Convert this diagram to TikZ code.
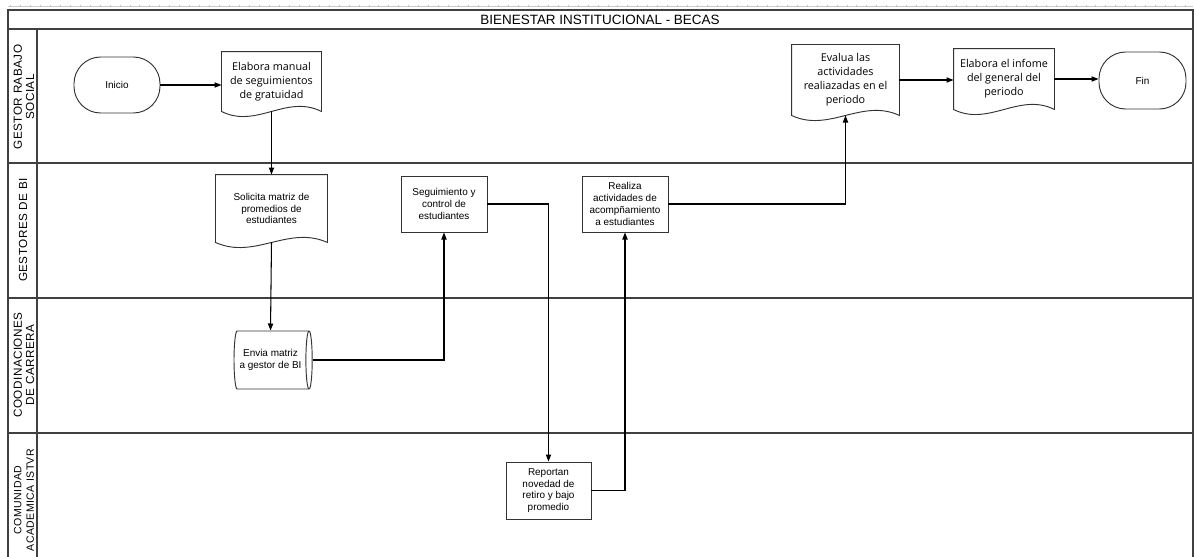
\documentclass[tikz,border=0pt]{standalone}
\usepackage{fontspec}
\setmainfont{Liberation Sans}
\newfontfamily\docfont{Open Sans}
\newfontfamily\lanefont{Liberation Sans}[LetterSpace=4]
\usepackage{tikz}
\usetikzlibrary{arrows.meta, positioning, calc, shapes.geometric}

\begin{document}
\begin{tikzpicture}[x=0.03cm, y=-0.03cm, >={Triangle[length=6pt,width=4.5pt]}, thick,
    lane/.style={draw=black!75, line width=1.5pt},
    lanetext/.style={rotate=90, align=center, font=\lanefont\fontsize{10}{10.5}\selectfont},
    small/.style={font=\fontsize{8.5}{10}\selectfont, align=center},
    terminal/.style={small, draw=black!80, rounded corners=0.8cm},
    process/.style={small, draw=black!80, rectangle},
    doc/.style={align=center, font=\docfont\fontsize{9.2}{12}\selectfont, inner sep=1pt},
    docline/.style={draw=black!80},
    store/.style={small, draw=black!80, cylinder, shape aspect=0.22},
    flow/.style={->, black, line width=0.9pt}]
  \useasboundingbox (0,0) rectangle (1194,557);
  % ruler on top
  \draw[black!20, line width=0.3pt] (8,6) -- (1193,6);
  \draw[black!25, line width=2.5pt, dash pattern=on 0.4pt off 8.1pt] (10,6) -- (1193,6);
  % pool and lanes
  \draw[lane] (8,557) -- (8,10) -- (1193,10) -- (1193,557);
  \draw[lane] (8,29) -- (1193,29);
  \draw[lane] (8,163) -- (1193,163);
  \draw[lane] (8,298) -- (1193,298);
  \draw[lane] (8,433) -- (1193,433);
  \draw[lane] (37,29) -- (37,557);
  \node[font=\fontsize{11.5}{12}\selectfont] (title) at (600,19.5) {BIENESTAR INSTITUCIONAL - BECAS};
  \node[lanetext] (lane1) at (24,97) {GESTOR RABAJO\\SOCIAL};
  \node[lanetext] (lane2) at (23,230) {GESTORES DE BI};
  \node[lanetext] (lane3) at (24,365) {COODINACIONES\\DE CARRERA};
  \node[lanetext, font=\lanefont\fontsize{9}{10.5}\selectfont] (lane4) at (24,500) {COMUNIDAD\\ACADEMICA ISTVR};
  % steps
  \node[terminal, minimum width=2.58cm, minimum height=1.68cm] (inicio) at (117,85) {Inicio};
  \node[doc, minimum width=2.97cm, minimum height=1.77cm] (elabora) at (271.5,81.5) {Elabora manual\\de seguimientos\\de gratuidad};
  \node[doc, small, minimum width=3.33cm, minimum height=2.01cm] (solicita) at (271.5,208.5) {Solicita matriz de\\promedios de\\estudiantes};
  \node[store, minimum width=1.74cm, minimum height=2.25cm] (envia) at (270.5,360) {Envia matriz\\a gestor de BI};
  \node[process, minimum width=2.58cm, minimum height=1.68cm] (segui) at (444,204) {Seguimiento y\\control de\\estudiantes};
  \node[process, minimum width=2.55cm, minimum height=1.71cm] (reporta) at (548.5,490.5) {Reportan\\novedad de\\retiro y bajo\\promedio};
  \node[process, minimum width=2.58cm, minimum height=1.68cm] (realiza) at (625,204) {Realiza\\actividades de\\acompñamiento\\a estudiantes};
  \node[doc, minimum width=3.21cm, minimum height=2.1cm] (evalua) at (845.5,80) {Evalua las\\actividades\\realiazadas en el\\periodo};
  \node[doc, minimum width=3.0cm, minimum height=1.8cm] (informe) at (1004,79) {Elabora el infome\\del general del\\periodo};
  \node[terminal, minimum width=2.61cm, minimum height=1.71cm] (fin) at (1142.5,80.5) {Fin};
  % document outlines
  \foreach \d in {elabora, solicita, evalua, informe}
    \draw[docline] (\d.north west) -- (\d.north east) -- (\d.south east)
      .. controls ($(\d.south east)!0.35!(\d.south west)+(0,15pt)$) and ($(\d.south west)!0.35!(\d.south east)+(0,-15pt)$) .. (\d.south west) -- cycle;
  % flow
  \draw[flow] (inicio.east) -- (inicio.east -| elabora.west);
  \draw[flow] (elabora.south) -- (solicita.north);
  \draw[flow] (solicita.south) -- (envia.north);
  \draw[flow] (envia.east) -| (segui.south);
  \draw[flow] (segui.east) -| (reporta.north);
  \draw[flow] (reporta.east) -| (realiza.south);
  \draw[flow] (realiza.east) -| (evalua.south);
  \draw[flow] (evalua.east) -- (evalua.east -| informe.west);
  \draw[flow] (informe.east) -- (informe.east -| fin.west);
\end{tikzpicture}
\end{document}
